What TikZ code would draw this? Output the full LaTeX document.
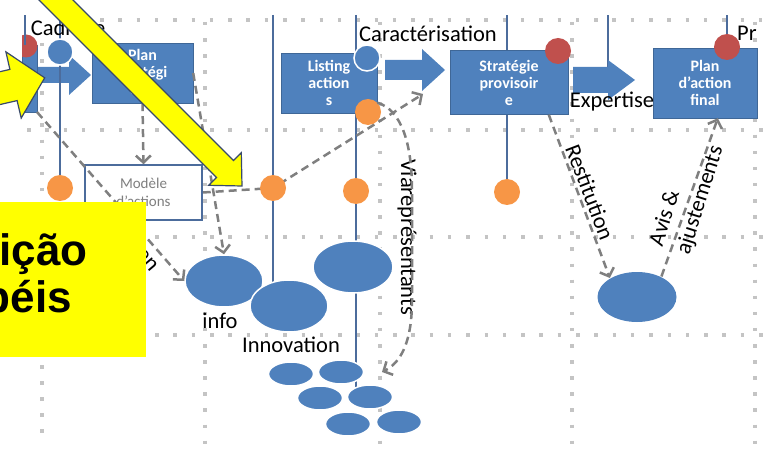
\documentclass[tikz,border=0pt]{standalone}
\usepackage{fontspec}
\setmainfont{Carlito}
\newfontfamily\arialfont{Liberation Sans}
\usetikzlibrary{arrows.meta,shapes.geometric,positioning}

\definecolor{boxblue}{HTML}{4F81BD}
\definecolor{lineblue}{HTML}{4C6C9C}
\definecolor{dotorange}{HTML}{F79646}
\definecolor{dotred}{HTML}{C0504D}
\definecolor{dashgray}{HTML}{7F7F7F}
\definecolor{dotgray}{HTML}{C4C4C4}
\definecolor{hiyellow}{HTML}{FFFF00}
\definecolor{outlineblue}{HTML}{394A6A}

\pgfdeclarelayer{bg}
\pgfdeclarelayer{fg}
\pgfsetlayers{bg,main,fg}

\begin{document}
\begin{tikzpicture}[x=1pt,y=-1pt,
   >={Straight Barb[length=7pt,width=15pt]},
   box/.style={rectangle, fill=boxblue, draw=boxblue!80!black, text=white,
      font=\bfseries\fontsize{16}{17}\selectfont, align=center, inner sep=0pt},
   dot/.style={circle, minimum size=26pt, inner sep=0pt},
   blob/.style={ellipse, fill=boxblue, draw=white, line width=1.5pt, inner sep=0pt,
      minimum width=78pt, minimum height=52pt},
   pebble/.style={blob, minimum width=45pt, minimum height=24pt},
   lifeline/.style={draw=lineblue, line width=2.5pt},
   flow/.style={draw=dashgray, line width=2.5pt, dash pattern=on 8pt off 5pt},
   gridh/.style={draw=dotgray, line width=3.5pt, dash pattern=on 3.5pt off 14.8pt},
   gridv/.style={draw=dotgray, line width=3.5pt, dash pattern=on 3.5pt off 12.6pt},
   lbl/.style={font=\fontsize{22.5}{28}\selectfont, inner sep=0pt},
   highlight/.style={fill=hiyellow, draw=outlineblue, line width=1.2pt}]

\useasboundingbox (0,0) rectangle (770,462);
\clip (0,0) rectangle (770,462);

% top row
\coordinate (top) at (0,15);
\coordinate (lft) at (25,45);
\coordinate (cadr) at (69,75);
\coordinate (cara) at (422,70);
\coordinate (expert) at (608,80);
\coordinate (cartip) at (423,94);
\coordinate (reptip) at (382,372);

\node[box] (plan) [minimum width=101pt, minimum height=60pt] at (142.5,73) {Plan\\stratégi\\que};
\node[box] (listing) [minimum width=96pt, minimum height=60pt] at (329,83) {Listing\\action\\s};
\node[box] (strat) [minimum width=118pt, minimum height=64pt] at (509,82.5) {Stratégie\\provisoir\\e};
\node[box] (final) [minimum width=104pt, minimum height=70pt] at (705,83) {Plan\\d'action\\final};
\node[draw=lineblue, fill=white, line width=1.5pt, minimum width=117pt, minimum height=55pt,
   text=dashgray, font=\fontsize{15}{18}\selectfont, align=center] (modele) at (143.5,192.5) {Modèle\\d'actions};

% block arrows
\fill[boxblue] (cara) ++(-37,-10) -- ++(37,0) -- ++(0,-11) -- ++(23,21) -- ++(-23,21) -- ++(0,-11) -- ++(-37,0) -- cycle;
\fill[boxblue] (expert) ++(-35,-13) -- ++(35,0) -- ++(0,-7) -- ++(27,20) -- ++(-27,20) -- ++(0,-7) -- ++(-35,0) -- cycle;

% circles
\node[dot, fill=boxblue, draw=white, line width=1.5pt] (b1) at (60,52) {};
\node[dot, fill=boxblue, draw=white, line width=1.5pt] (b2) at (367,58) {};
\node[dot, fill=dotred] (r2) at (558,51) {};
\node[dot, fill=dotred] (r3) at (727,47) {};
\node[dot, fill=dotorange] (o1) at (60,188) {};
\node[dot, fill=dotorange] (o2) at (368,112) {};
\node[dot, fill=dotorange] (o3) at (273,188) {};
\node[dot, fill=dotorange] (o4) at (356,191) {};
\node[dot, fill=dotorange] (o5) at (507,192) {};

% groups
\node[blob, minimum width=80pt] (cloud) at (353,267) {};
\node[blob] (info) at (224,281) {};
\node[blob] (innov) at (289,306) {};
\node[blob, draw=none, minimum width=79pt, minimum height=50pt] (meet) at (637,297) {};
\node[pebble] (p1) at (291,374) {};
\node[pebble] (p2) at (341,372) {};
\node[pebble] (p3) at (320,398) {};
\node[pebble] (p4) at (370,397) {};
\node[pebble] (p5) at (348,424) {};
\node[pebble] (p6) at (399,422) {};

% labels
\node[lbl] (cadlbl) at (68,30) {Cadrage};
\node[lbl] (carlbl) at (428,34) {Caractérisation};
\node[lbl] (explbl) at (612,102) {Expertise};
\node[lbl, anchor=west] (prlbl) at (737,33) {Pr};
\node[lbl] (infolbl) at (220,321) {info};
\node[lbl] (innovlbl) at (291,345) {Innovation};
\node[lbl, rotate=-90] (replbl) at (407,237) {Viareprésentants};
\node[lbl, rotate=-69] (restlbl) at (590,192) {Restitution};
\node[lbl, rotate=72.5, align=left] (avislbl) at (687,196) {Avis \&\\ajustements};
\node[lbl, rotate=-50] (enlbl) at (147,260) {en};

% dashed links
\draw[flow,->] (plan.south) -- (modele.north);
\draw[flow,->] (plan.east) -- (info.north);
\draw[flow,->] (lft |- o2) ++(12,0) -- (info.west);
\draw[flow,->] (o2.north east) .. controls (402,110) and (412,145) .. (412,190)
   -- (412,300) .. controls (412,340) and (402,362) .. (reptip);
\draw[flow,->] (strat.-39) -- (meet.145);
\draw[flow,->] (meet.40) -- (final.-70);

\begin{pgfonlayer}{bg}
   % grid
   \draw[gridh] (100,20) -- (770,20);
   \foreach \y in {130,237,335}
      \draw[gridh] (27,\y) -- (770,\y);
   \draw[gridv] (42,43) -- (42,445);
   \foreach \x in {205,380,572,755}
      \draw[gridv] (\x,22) -- (\x,445);
   % left box, cut
   \node[box, minimum width=15pt, minimum height=67pt] (lbox) at (29.5,78.5) {};
   \begin{scope}
      \clip (22,30) rectangle (60,70);
      \node[dot, fill=dotred, minimum size=23pt] (r1) at (26,46) {};
   \end{scope}
   \fill[boxblue] (cadr) ++(-31,-8) -- ++(31,0) -- ++(0,-12) -- ++(22,20) -- ++(-22,20) -- ++(0,-12) -- ++(-31,0) -- cycle;
   % lifelines
   \draw[lifeline] (lft) -- (lft |- top);
   \draw[lifeline] (o1) -- (o1 |- top);
   \draw[lifeline] (o3 |- top) -- (o3 |- innov.center);
   \draw[lifeline] (o4 |- top) -- (o4 |- p4.center);
   \draw[lifeline] (o5) -- (o5 |- top);
   \draw[lifeline] (expert) -- (expert |- top);
   \draw[lifeline] (r3) -- (r3 |- top);
   \draw[flow,->] (modele.east) -- (o3.center) -- (cartip);
\end{pgfonlayer}

\begin{pgfonlayer}{fg}
   \draw[highlight] (-6.5,-79.5) -- (233.5,160.5) -- (241.3,152.7) -- (242,186)
      -- (208.7,185.3) -- (216.5,177.5) -- (-23.5,-62.5) -- cycle;
   \draw[highlight] (-68,87.4) -- (9.9,69.4) -- (5.9,51.9) -- (44.7,77.8)
      -- (21.2,118.1) -- (17.1,100.6) -- (-60.8,118.6) -- cycle;
   \fill[hiyellow] (0,202) rectangle (146,357);
   \node[font=\arialfont\bfseries\fontsize{44}{50}\selectfont, anchor=base east, inner sep=0pt] (role1) at (88,265) {ição};
   \node[font=\arialfont\bfseries\fontsize{44}{50}\selectfont, anchor=base east, inner sep=0pt] (role2) at (72,312) {péis};
\end{pgfonlayer}
\end{tikzpicture}
\end{document}
